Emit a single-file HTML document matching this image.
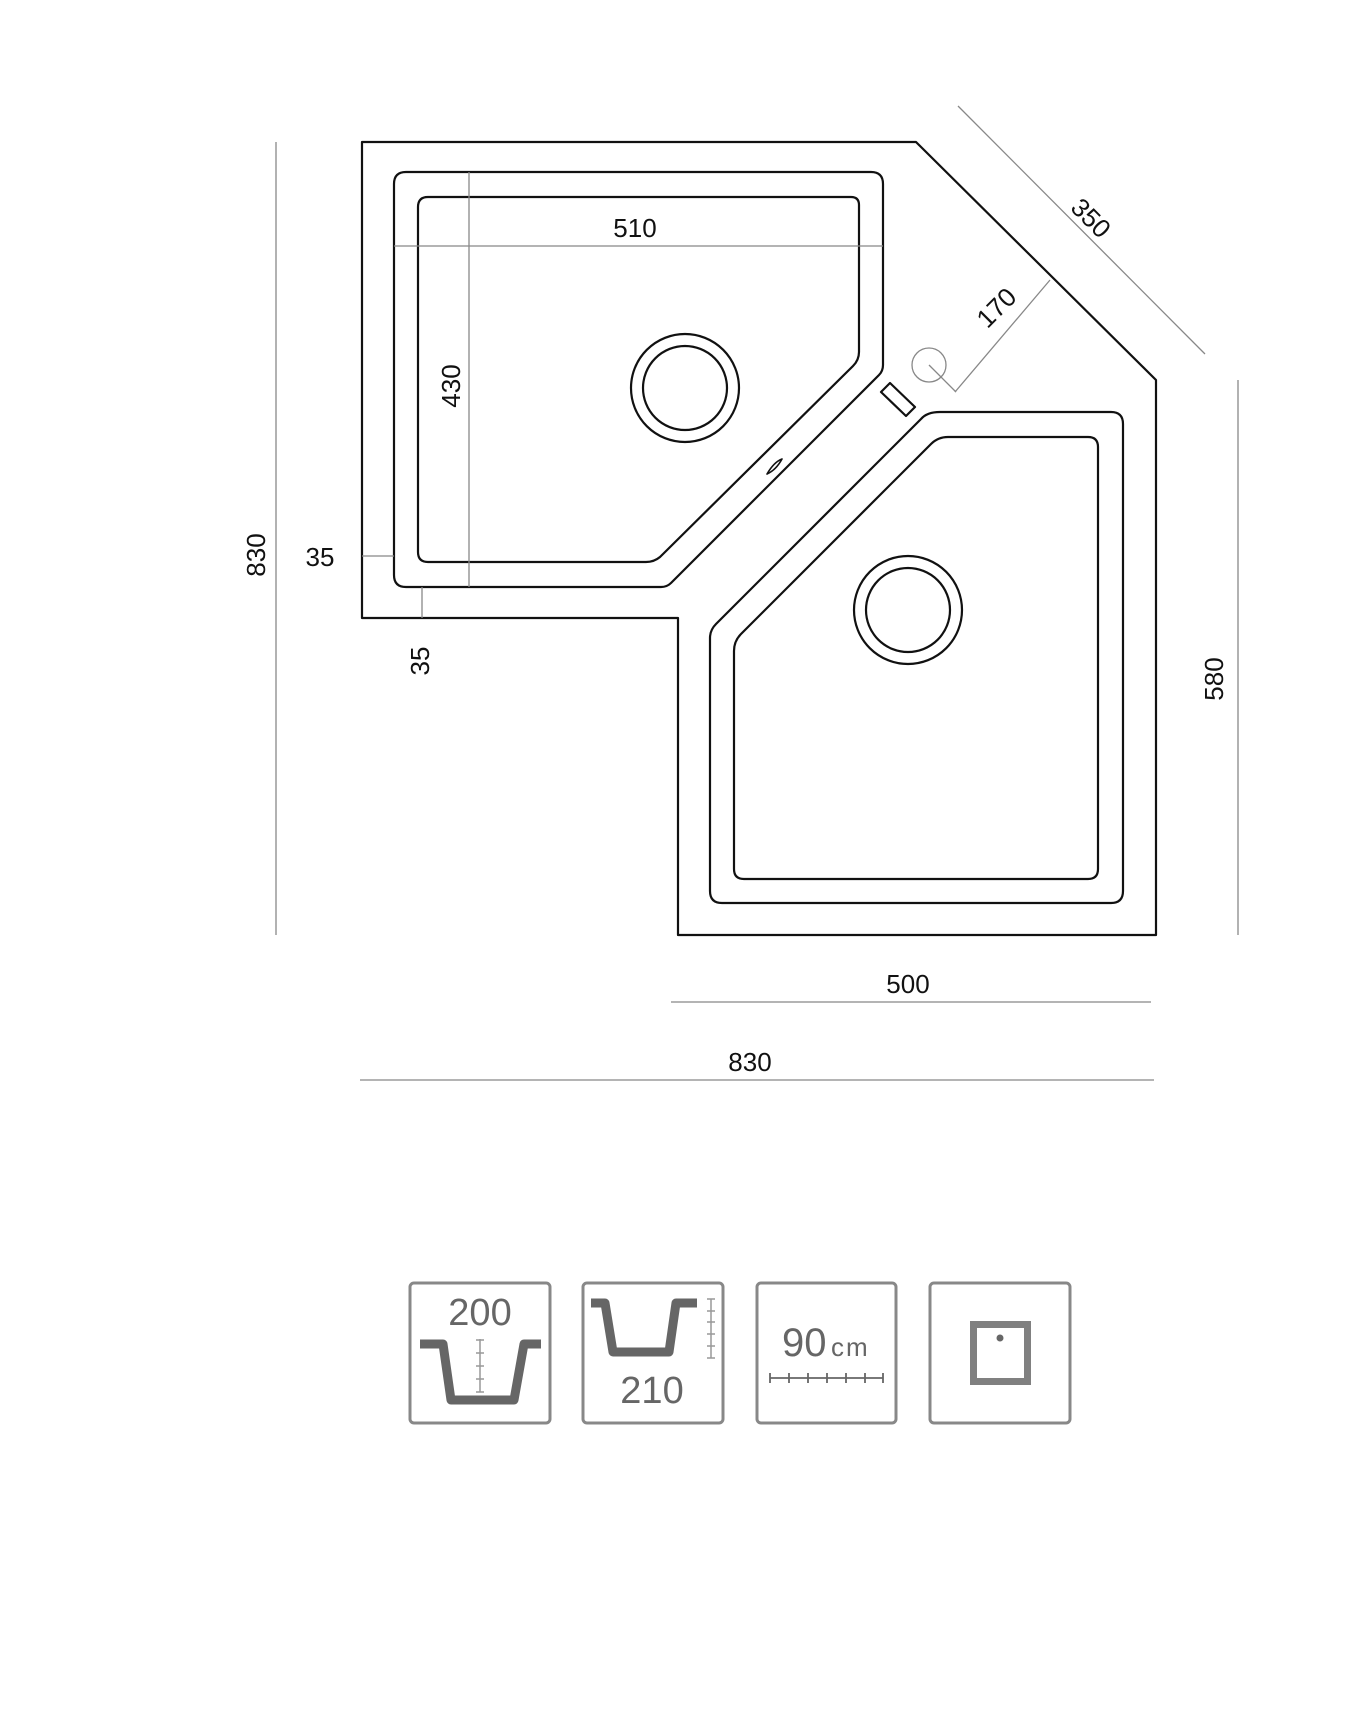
<!DOCTYPE html>
<html><head><meta charset="utf-8"><style>
html,body{margin:0;padding:0;background:#fff;}
svg{display:block;}
text{font-family:"Liberation Sans","DejaVu Sans",sans-serif;}
</style></head><body>
<svg width="1360" height="1710" viewBox="0 0 1360 1710" xmlns="http://www.w3.org/2000/svg">
<g fill="none" stroke="#111" stroke-width="2.2" stroke-linejoin="round">
<polygon points="362,142 916,142 1156,380 1156,935 678,935 678,618 362,618"/>
<path d="M406,172 H871 Q883,172 883,184 V365 Q883,371 879,375 L671,583 Q667,587 661,587 H406 Q394,587 394,575 V184 Q394,172 406,172 Z"/>
<path d="M428,197 H851 Q859,197 859,205 V352 Q859,360 853,366 L660,557 Q654,562 646,562 H428 Q418,562 418,552 V207 Q418,197 428,197 Z"/>
<path d="M940,412 H1111 Q1123,412 1123,424 V891 Q1123,903 1111,903 H722 Q710,903 710,891 V638 Q710,630 716,624 L921,419 Q927,412 940,412 Z"/>
<path d="M948,437 H1088 Q1098,437 1098,447 V869 Q1098,879 1088,879 H744 Q734,879 734,869 V651 Q734,641 741,634 L931,444 Q938,437 948,437 Z"/>
<circle cx="685" cy="388" r="54"/><circle cx="685" cy="388" r="42"/>
<circle cx="908" cy="610" r="54"/><circle cx="908" cy="610" r="42"/>
<polygon points="881,392 890,383 915,407 906,416"/>
<path d="M767,474 Q774,462 782,459 Q776,470 767,474 Z" stroke-width="1.6"/>
</g>
<g fill="none" stroke="#888" stroke-width="1.3">
<circle cx="929" cy="365" r="17"/>
<line x1="929" y1="365" x2="956" y2="392"/>
<line x1="955" y1="392" x2="1050" y2="280"/>
<line x1="958" y1="106" x2="1205" y2="354"/>
<line x1="276" y1="142" x2="276" y2="935"/>
<line x1="1238" y1="380" x2="1238" y2="935"/>
<line x1="671" y1="1002" x2="1151" y2="1002"/>
<line x1="360" y1="1080" x2="1154" y2="1080"/>
<line x1="394" y1="246" x2="883" y2="246"/>
<line x1="469" y1="172" x2="469" y2="587"/>
<line x1="362" y1="556" x2="394" y2="556"/>
<line x1="422" y1="587" x2="422" y2="618"/>
</g>
<g font-size="26" fill="#111" text-anchor="middle">
<text x="635" y="237">510</text>
<text x="460" y="386" transform="rotate(-90 460 386)">430</text>
<text x="265" y="555" transform="rotate(-90 265 555)">830</text>
<text x="320" y="566">35</text>
<text x="429" y="661" transform="rotate(-90 429 661)">35</text>
<text x="1223" y="679" transform="rotate(-90 1223 679)">580</text>
<text x="908" y="993">500</text>
<text x="750" y="1071">830</text>
<text x="1091" y="227" transform="rotate(45 1091 218)">350</text>
<text x="999" y="323" transform="rotate(-45 990 314)">170</text>
</g>
<g fill="none" stroke="#888" stroke-width="3">
<rect x="410" y="1283" width="140" height="140" rx="4"/>
<rect x="583" y="1283" width="140" height="140" rx="4"/>
<rect x="757" y="1283" width="139" height="140" rx="4"/>
<rect x="930" y="1283" width="140" height="140" rx="4"/>
</g>
<g fill="#666">
<text x="480" y="1325" font-size="38" text-anchor="middle">200</text>
<text x="652" y="1403" font-size="38" text-anchor="middle">210</text>
<text x="782" y="1356" font-size="40">90</text>
<text x="831" y="1356" font-size="26" letter-spacing="2">cm</text>
</g>
<g fill="none" stroke="#666" stroke-width="9" stroke-linejoin="round">
<path d="M420,1344 H443 L451,1400 H514 L524,1344 H541"/>
<path d="M591,1303 H605 L613,1352 H669 L676,1303 H697"/>
</g>
<g stroke="#999" stroke-width="1.5">
<line x1="480" y1="1339" x2="480" y2="1392"/>
<line x1="476" y1="1340" x2="484" y2="1340"/><line x1="476" y1="1353" x2="484" y2="1353"/><line x1="476" y1="1366" x2="484" y2="1366"/><line x1="476" y1="1379" x2="484" y2="1379"/><line x1="476" y1="1392" x2="484" y2="1392"/>
<line x1="711" y1="1299" x2="711" y2="1358"/>
<line x1="707" y1="1299" x2="715" y2="1299"/><line x1="707" y1="1311" x2="715" y2="1311"/><line x1="707" y1="1322" x2="715" y2="1322"/><line x1="707" y1="1334" x2="715" y2="1334"/><line x1="707" y1="1346" x2="715" y2="1346"/><line x1="707" y1="1358" x2="715" y2="1358"/>
</g>
<g stroke="#666" stroke-width="1.8">
<line x1="770" y1="1378" x2="883" y2="1378"/>
<line x1="770" y1="1373" x2="770" y2="1383"/><line x1="789" y1="1373" x2="789" y2="1383"/><line x1="808" y1="1373" x2="808" y2="1383"/><line x1="827" y1="1373" x2="827" y2="1383"/><line x1="846" y1="1373" x2="846" y2="1383"/><line x1="865" y1="1373" x2="865" y2="1383"/><line x1="883" y1="1373" x2="883" y2="1383"/>
</g>
<rect x="973.5" y="1324.5" width="54" height="57" fill="none" stroke="#808080" stroke-width="7"/>
<circle cx="1000" cy="1338" r="3.5" fill="#666"/>
</svg>
</body></html>
